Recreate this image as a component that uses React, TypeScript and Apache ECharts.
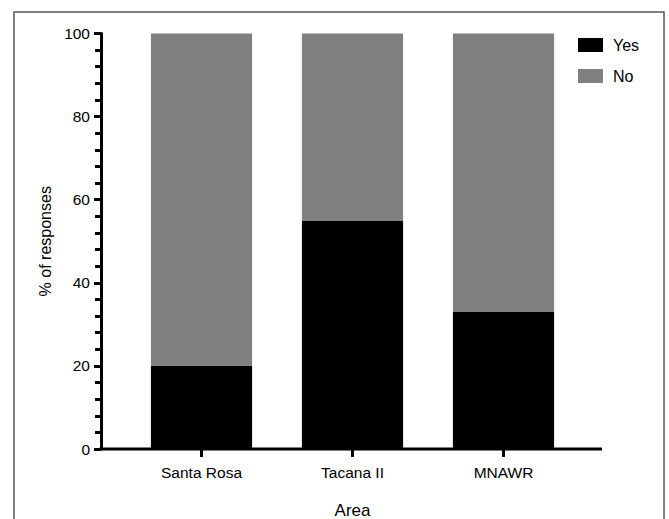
import React, { useEffect, useRef } from "react";
import * as echarts from "echarts";

const categories = ["Santa Rosa", "Tacana II", "MNAWR"];
const yesValues = [20, 55, 33];
const noValues = [80, 45, 67];
const seriesNames = ["Yes", "No"];

const FONT = "'Liberation Sans', Arial, Helvetica, sans-serif";

export default function App() {
  const ref = useRef<HTMLDivElement>(null);
  useEffect(() => {
    if (!ref.current) return;
    const chart = echarts.init(ref.current, null, { renderer: "svg" });
    chart.setOption({
      animation: false,
      backgroundColor: "#ffffff",
      textStyle: { fontFamily: FONT, color: "#000" },
      grid: {
        left: 126,
        right: 90,
        top: 33.5,
        bottom: 70,
        containLabel: false,
        outerBoundsMode: "none",
      },
      legend: {
        orient: "vertical",
        left: 573,
        top: 32,
        itemWidth: 25,
        itemHeight: 14,
        itemGap: 15,
        icon: "rect",
        data: seriesNames,
        textStyle: { fontFamily: FONT, fontSize: 16, color: "#000", padding: [0, 0, 0, 5] },
      },
      xAxis: {
        type: "category",
        data: categories,
        name: "Area",
        nameLocation: "middle",
        nameGap: 53,
        nameTextStyle: { fontFamily: FONT, fontSize: 17, color: "#000" },
        axisLine: { show: false },
        axisTick: { show: true, alignWithLabel: true, length: 8, lineStyle: { color: "#000", width: 3 } },
        axisLabel: { fontFamily: FONT, fontSize: 15.5, color: "#000", margin: 15 },
        splitLine: { show: false },
      },
      yAxis: {
        type: "value",
        min: 0,
        max: 100,
        interval: 20,
        offset: 25,
        name: "% of responses",
        nameLocation: "middle",
        nameGap: 46,
        nameTextStyle: { fontFamily: FONT, fontSize: 16, color: "#000" },
        axisLine: { show: true, lineStyle: { color: "#000", width: 3 } },
        axisTick: { show: true, length: 7, lineStyle: { color: "#000", width: 3 } },
        minorTick: { show: true, splitNumber: 5, length: 6, lineStyle: { color: "#000", width: 3 } },
        axisLabel: { fontFamily: FONT, fontSize: 15.5, color: "#000", margin: 11 },
        splitLine: { show: false },
      },
      series: [
        {
          name: seriesNames[0],
          type: "bar",
          stack: "total",
          data: yesValues,
          barWidth: "67%",
          itemStyle: { color: "#000000" },
        },
        {
          name: seriesNames[1],
          type: "bar",
          stack: "total",
          data: noValues,
          barWidth: "67%",
          itemStyle: { color: "#808080" },
        },
      ],
      graphic: [
        {
          type: "rect",
          shape: { x: 14, y: 12, width: 650, height: 530 },
          style: { fill: "none", stroke: "#555", lineWidth: 1.5 },
          silent: true,
        },
        {
          type: "line",
          shape: { x1: 99.5, y1: 449, x2: 602, y2: 449 },
          style: { stroke: "#000", lineWidth: 3 },
          silent: true,
          z: 10,
        },
      ],
    });
    return () => chart.dispose();
  }, []);
  return (
    <div
      ref={ref}
      style={{ position: "fixed", left: 0, top: 0, width: 669, height: 519 }}
    />
  );
}
